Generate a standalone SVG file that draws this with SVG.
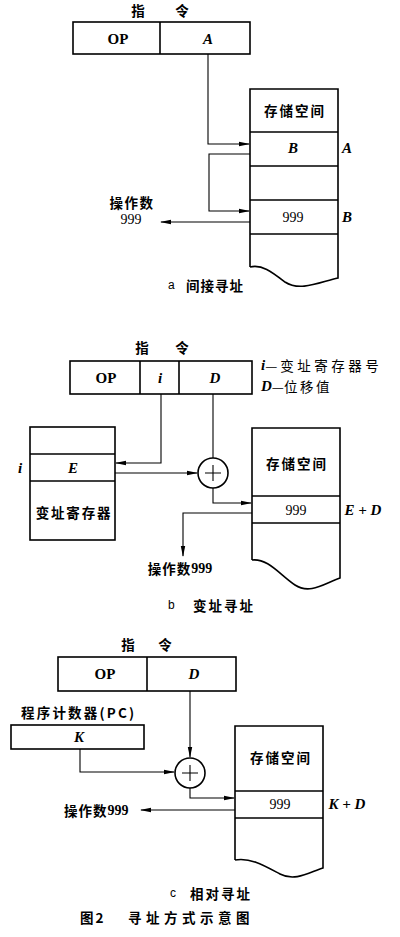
<svg xmlns="http://www.w3.org/2000/svg" width="400" height="937" viewBox="0 0 400 937">
<style>
.bx{fill:none;stroke:#000;stroke-width:1.6}
.ln{fill:none;stroke:#000;stroke-width:1.1}
.cn{font-family:"Noto Sans CJK SC",sans-serif;font-weight:bold;font-size:13.5px;fill:#000}
.cns{font-family:"Noto Sans CJK SC",sans-serif;font-size:13.5px;fill:#000}
.op{font-family:"Liberation Serif",serif;font-weight:bold;font-size:15px;fill:#000}
.it{font-family:"Liberation Serif",serif;font-weight:bold;font-style:italic;font-size:15px;fill:#000}
.num{font-family:"Liberation Serif",serif;font-size:14px;fill:#000}
.cap{font-family:"Liberation Sans",sans-serif;font-size:12px;fill:#000}
text{dominant-baseline:central}
.m{text-anchor:middle}
.ls{letter-spacing:2px}
</style>
<defs>
<marker id="ar" markerWidth="11" markerHeight="6" refX="10" refY="3" orient="auto" markerUnits="userSpaceOnUse">
<path d="M0,0.8 L11,3 L0,5.2 z" fill="#000"/>
</marker>
</defs>

<!-- ===== a ===== -->
<g id="a-title"><text class="cn m" x="138" y="10">指</text><text class="cn m" x="182" y="10">令</text></g>
<g id="a-instr">
<rect class="bx" x="73" y="22" width="177" height="32"/>
<line class="bx" x1="160" y1="22" x2="160" y2="54"/>
<text class="op m" x="118" y="39">OP</text>
<text class="it m" x="208" y="39">A</text>
</g>
<g id="a-mem">
<path class="bx" d="M250,267 L250,89 L338,89 L338,278 C320,282 300,292 285,282 C272,272 262,264 250,267"/>
<line class="bx" x1="250" y1="132" x2="338" y2="132"/>
<line class="bx" x1="250" y1="166" x2="338" y2="166"/>
<line class="bx" x1="250" y1="200" x2="338" y2="200"/>
<line class="bx" x1="250" y1="234" x2="338" y2="234"/>
<text class="cn m ls" x="295" y="110">存储空间</text>
<text class="it m" x="293" y="148">B</text>
<text class="num m" x="293" y="217">999</text>
<text class="it m" x="347" y="148">A</text>
<text class="it m" x="347" y="217">B</text>
</g>
<g id="a-operand"><text class="cn m" x="132" y="202" letter-spacing="1.5">操作数</text><text class="num m" x="131" y="219">999</text></g>
<g id="a-caption"><text class="cap" x="168" y="285">a</text><text class="cn" x="186" y="285" font-size="12.5" letter-spacing="1">间接寻址</text></g>

<!-- ===== b ===== -->
<g id="b-title"><text class="cn m" x="142" y="347">指</text><text class="cn m" x="182" y="347">令</text></g>
<g id="b-instr">
<rect class="bx" x="70" y="361" width="182" height="33"/>
<line class="bx" x1="140" y1="361" x2="140" y2="394"/>
<line class="bx" x1="179" y1="361" x2="179" y2="394"/>
<text class="op m" x="106" y="378">OP</text>
<text class="it m" x="160" y="378">i</text>
<text class="it m" x="215" y="378">D</text>
</g>
<g id="b-legend">
<text class="cns" x="261" y="365"><tspan class="it">i</tspan>— <tspan letter-spacing="3.5">变址寄存器号</tspan></text>
<text class="cns" x="261" y="386"><tspan class="it">D</tspan>—<tspan letter-spacing="2.5">位移值</tspan></text>
</g>
<g id="b-reg">
<rect class="bx" x="30" y="427" width="85" height="113"/>
<line class="bx" x1="30" y1="454" x2="115" y2="454"/>
<line class="bx" x1="30" y1="481" x2="115" y2="481"/>
<text class="it m" x="73" y="468">E</text>
<text class="cn m" x="74" y="512" letter-spacing="1.8">变址寄存器</text>
<text class="it m" x="20" y="468">i</text>
</g>
<g id="b-adder"><circle class="bx" cx="213" cy="473" r="15"/><path class="ln" d="M213,465 V481 M205,473 H221" stroke-width="1.4"/></g>
<g id="b-mem">
<path class="bx" d="M252,560 L252,428 L340,428 L340,578 C325,583 310,595 295,585 C280,575 268,558 252,560"/>
<line class="bx" x1="252" y1="496" x2="340" y2="496"/>
<line class="bx" x1="252" y1="523" x2="340" y2="523"/>
<text class="cn m ls" x="297" y="463">存储空间</text>
<text class="num m" x="296" y="510">999</text>
<text class="it m" x="363" y="510">E + D</text>
</g>
<g id="b-operand"><text class="cn m" x="180" y="568" letter-spacing="1">操作数<tspan class="num" font-weight="bold" letter-spacing="0">999</tspan></text></g>
<g id="b-caption"><text class="cap" x="168" y="605">b</text><text class="cn" x="193" y="605" font-size="13" letter-spacing="2">变址寻址</text></g>

<!-- ===== c ===== -->
<g id="c-title"><text class="cn m" x="128" y="644">指</text><text class="cn m" x="165" y="644">令</text></g>
<g id="c-instr">
<rect class="bx" x="58" y="657" width="178" height="34"/>
<line class="bx" x1="147" y1="657" x2="147" y2="691"/>
<text class="op m" x="105" y="674">OP</text>
<text class="it m" x="194" y="674">D</text>
</g>
<g id="c-pc">
<text class="cn" x="21" y="712" letter-spacing="2.2">程序计数器(PC)</text>
<rect class="bx" x="11" y="725" width="133" height="24"/>
<text class="it m" x="79" y="737">K</text>
</g>
<g id="c-adder"><circle class="bx" cx="190" cy="773" r="15"/><path class="ln" d="M190,765 V781 M182,773 H198" stroke-width="1.4"/></g>
<g id="c-mem">
<path class="bx" d="M235,860 L235,726 L323,726 L323,868 C310,872 295,882 280,874 C265,866 250,857 235,860"/>
<line class="bx" x1="235" y1="791" x2="323" y2="791"/>
<line class="bx" x1="235" y1="818" x2="323" y2="818"/>
<text class="cn m ls" x="281" y="757">存储空间</text>
<text class="num m" x="280" y="804">999</text>
<text class="it m" x="347" y="804">K + D</text>
</g>
<g id="c-operand"><text class="cn" x="64" y="810" letter-spacing="1">操作数<tspan class="num" font-weight="bold" letter-spacing="0">999</tspan></text></g>
<g id="c-caption"><text class="cap" x="170" y="893">c</text><text class="cn" x="190" y="893" font-size="13" letter-spacing="2">相对寻址</text></g>
<g id="figure-caption"><text class="cn" x="80" y="917" font-size="13" letter-spacing="2">图2</text><text class="cn" x="128" y="917" font-size="13" letter-spacing="4.5">寻址方式示意图</text></g>

<!-- connectors -->
<g id="connectors">
<path class="ln" d="M208,54 V144 H249" marker-end="url(#ar)"/>
<path class="ln" d="M250,154 H209 V211 H249" marker-end="url(#ar)"/>
<path class="ln" d="M250,222 H161" marker-end="url(#ar)"/>

<path class="ln" d="M161,394 V463 H116" marker-end="url(#ar)"/>
<path class="ln" d="M115,473 H197" marker-end="url(#ar)"/>
<path class="ln" d="M213,394 V458"/>
<path class="ln" d="M213,488 V503 H251" marker-end="url(#ar)"/>
<path class="ln" d="M252,513 H183 V556" marker-end="url(#ar)"/>

<path class="ln" d="M190,691 V757" marker-end="url(#ar)"/>
<path class="ln" d="M80,749 V772 H174" marker-end="url(#ar)"/>
<path class="ln" d="M190,788 V798 H234" marker-end="url(#ar)"/>
<path class="ln" d="M235,810 H141" marker-end="url(#ar)"/>
</g>
</svg>
